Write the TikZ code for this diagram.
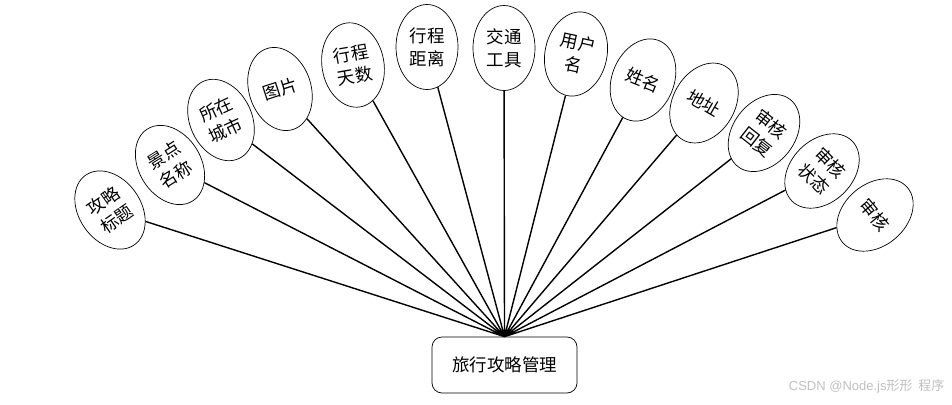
\documentclass[tikz,border=0pt]{standalone}
\usepackage{fontspec}
\setmainfont{Liberation Sans}
\newfontfamily\cjk{Noto Sans CJK SC}
\usepackage{tikz}
\usetikzlibrary{shapes.geometric,positioning}

\begin{document}
\begin{tikzpicture}[
      x=1pt, y=-1pt,
      attr/.style={draw, ellipse, line width=0.7pt, minimum width=62pt, minimum height=85pt, inner sep=0pt, align=center, font=\cjk\fontsize{17.5}{23}\selectfont},
      ent/.style={draw, rounded corners=10pt, line width=0.7pt, minimum width=145pt, minimum height=56pt, font=\cjk\fontsize{17.5}{20}\selectfont},
      conn/.style={line width=1.4pt}
    ]
    \useasboundingbox (0,0) rectangle (952,404);

    \node[ent] (guanli) at (504.5,365) {旅行攻略管理};

    \node[attr, rotate=35] (biaoti) at (110,210) {攻略\\标题};
    \node[attr, rotate=32] (jingdian) at (170,165) {景点\\名称};
    \node[attr, rotate=25] (chengshi) at (221,120) {所在\\城市};
    \node[attr, rotate=18] (tupian) at (280,89) {图片};
    \node[attr, rotate=10] (tianshu) at (353,65) {行程\\天数};
    \node[attr] (juli) at (427,47) {行程\\距离};
    \node[attr] (gongju) at (504,48) {交通\\工具};
    \node[attr, rotate=-12] (yonghu) at (576,54) {用户\\名};
    \node[attr, rotate=-22] (xingming) at (643,80) {姓名};
    \node[attr, rotate=-30] (dizhi) at (704,103) {地址};
    \node[attr, rotate=-38] (huifu) at (764,133) {审核\\回复};
    \node[attr, rotate=-45] (zhuangtai) at (822,171) {审核\\状态};
    \node[attr, rotate=-50] (shenhe) at (875,215) {审核};

    \draw[conn] (biaoti) -- (guanli.north)
      (jingdian) -- (guanli.north)
      (chengshi) -- (guanli.north)
      (tupian) -- (guanli.north)
      (tianshu) -- (guanli.north)
      (juli) -- (guanli.north)
      (gongju) -- (guanli.north)
      (yonghu) -- (guanli.north)
      (xingming) -- (guanli.north)
      (dizhi) -- (guanli.north)
      (huifu) -- (guanli.north)
      (zhuangtai) -- (guanli.north)
      (shenhe) -- (guanli.north);

    \node[anchor=east, text=black!25, font=\fontsize{13}{15}\selectfont] (mark) at (948,386) {CSDN @Node.js{\cjk 形形\ \ 程序}};
  \end{tikzpicture}
\end{document}
